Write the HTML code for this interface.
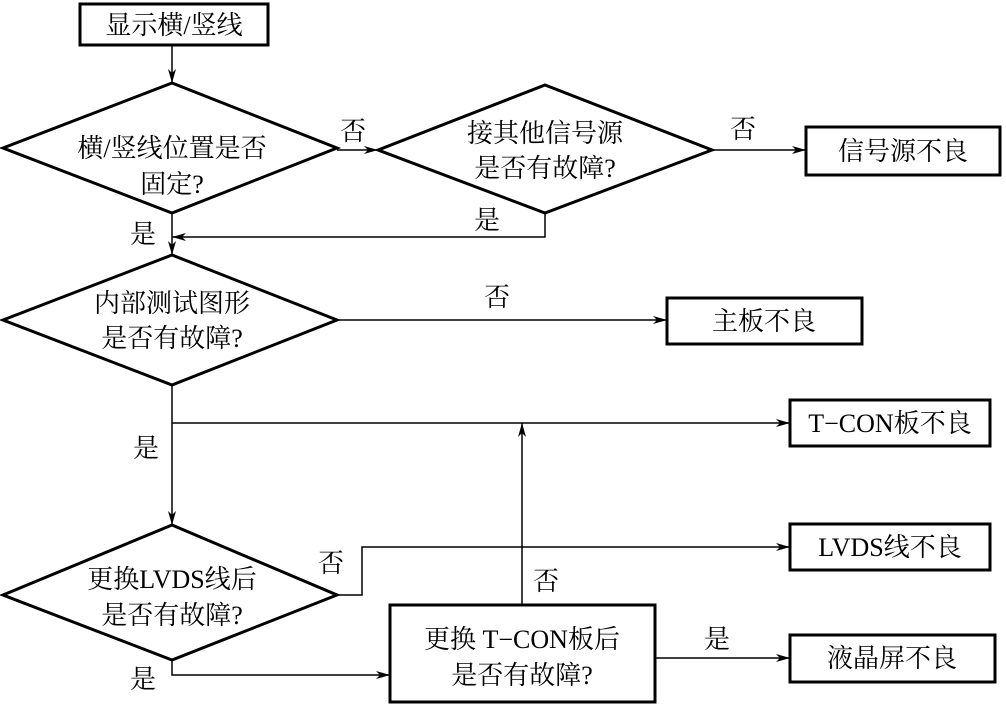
<!DOCTYPE html>
<html><head><meta charset="utf-8"><style>
html,body{margin:0;padding:0;background:#fff;}
svg{display:block;}
text{font-family:"Liberation Serif","Noto Serif CJK SC","Noto Sans CJK SC",serif;font-size:26px;fill:#000;}
</style></head><body>
<svg width="1006" height="705" viewBox="0 0 1006 705" xmlns="http://www.w3.org/2000/svg">
<defs><marker id="a" markerWidth="14" markerHeight="8" refX="14" refY="4" orient="auto" markerUnits="userSpaceOnUse"><path d="M0,0 L14,4 L0,8 L4,4 Z" fill="#000"/></marker></defs>
<g fill="none" stroke="#000" stroke-width="3">
<rect x="80" y="4" width="188" height="41"/>
<rect x="806" y="127" width="194" height="48"/>
<rect x="667" y="298" width="195" height="46"/>
<rect x="790" y="400" width="200" height="46"/>
<rect x="790" y="524" width="200" height="46"/>
<rect x="390" y="605" width="265" height="97"/>
<rect x="790" y="635" width="205" height="47"/>
<polygon points="3,148 172,83 337,148 172,213"/>
<polygon points="378,150 545,85 712,150 545,213"/>
<polygon points="3,320 172,255 337,320 172,385"/>
<polygon points="3,595 172,525 337,595 172,660"/>
</g>
<g fill="none" stroke="#000" stroke-width="1.5" marker-end="url(#a)">
<line x1="172" y1="45" x2="172" y2="83"/>
<line x1="337" y1="150" x2="378" y2="150"/>
<line x1="712" y1="150" x2="806" y2="150"/>
<polyline points="545,213 545,237 172,237"/>
<line x1="172" y1="213" x2="172" y2="255"/>
<line x1="337" y1="320" x2="667" y2="320"/>
<line x1="172" y1="385" x2="172" y2="525"/>
<line x1="172" y1="423" x2="790" y2="423"/>
<line x1="522" y1="605" x2="522" y2="423"/>
<polyline points="337,595 362,595 362,547 790,547"/>
<polyline points="172,660 172,675 390,675"/>
<line x1="655" y1="658" x2="790" y2="658"/>
</g>
<text x="174" y="34" text-anchor="middle">显示横/竖线</text>
<text x="172" y="157" text-anchor="middle">横/竖线位置是否</text>
<text x="172" y="193" text-anchor="middle">固定?</text>
<text x="545" y="142" text-anchor="middle">接其他信号源</text>
<text x="545" y="177" text-anchor="middle">是否有故障?</text>
<text x="903" y="160" text-anchor="middle">信号源不良</text>
<text x="172" y="312" text-anchor="middle">内部测试图形</text>
<text x="172" y="347" text-anchor="middle">是否有故障?</text>
<text x="764" y="330" text-anchor="middle">主板不良</text>
<text x="890" y="432" text-anchor="middle">T−CON板不良</text>
<text x="890" y="556" text-anchor="middle">LVDS线不良</text>
<text x="172" y="588" text-anchor="middle">更换LVDS线后</text>
<text x="172" y="624" text-anchor="middle">是否有故障?</text>
<text x="522" y="648" text-anchor="middle">更换 T−CON板后</text>
<text x="522" y="684" text-anchor="middle">是否有故障?</text>
<text x="892" y="667" text-anchor="middle">液晶屏不良</text>
<text x="340" y="140">否</text>
<text x="730" y="138">否</text>
<text x="474" y="229">是</text>
<text x="130" y="243">是</text>
<text x="484" y="306">否</text>
<text x="133" y="457">是</text>
<text x="318" y="572">否</text>
<text x="533" y="590">否</text>
<text x="130" y="688">是</text>
<text x="704" y="648">是</text>
</svg>
</body></html>
